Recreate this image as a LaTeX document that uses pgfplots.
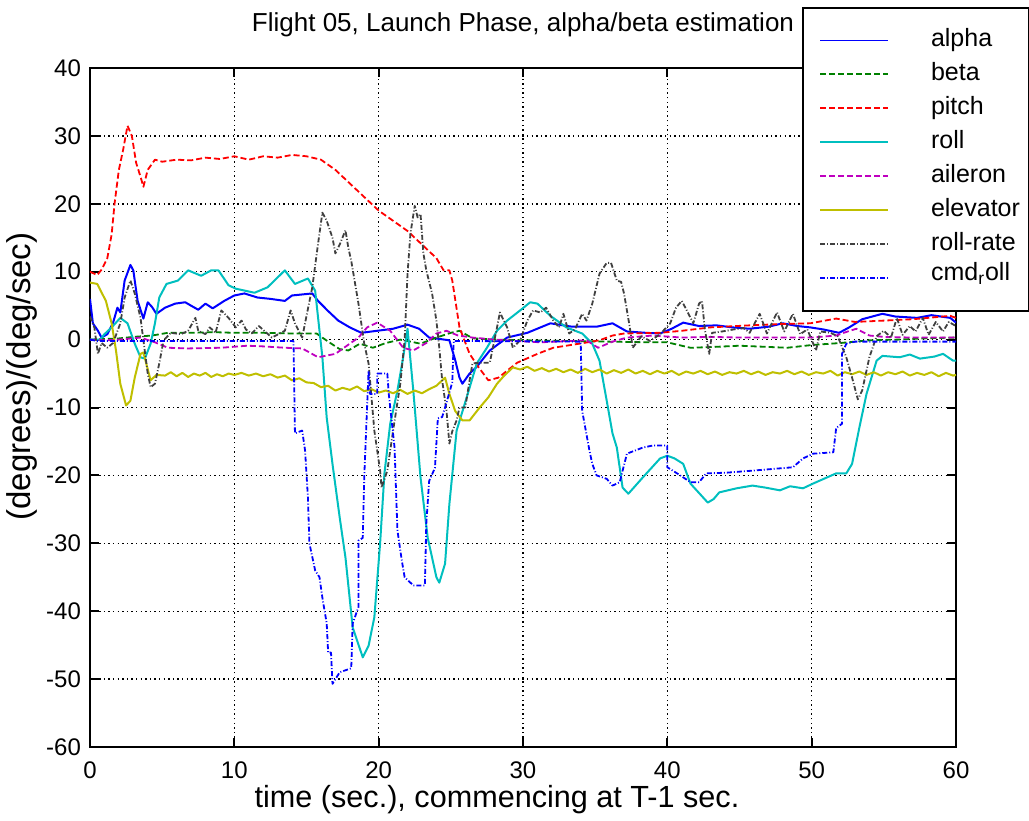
\documentclass[border=0pt]{standalone}
\usepackage{fontspec}
\setmainfont{Liberation Sans}
\usepackage{pgfplots}
\pgfplotsset{compat=1.18}
\definecolor{mblue}{RGB}{0,0,255}
\definecolor{mgreen}{RGB}{0,128,0}
\definecolor{mred}{RGB}{255,0,0}
\definecolor{mcyan}{RGB}{0,191,191}
\definecolor{mmag}{RGB}{191,0,191}
\definecolor{molive}{RGB}{191,191,0}
\definecolor{mgray}{RGB}{64,64,64}
\begin{document}
\begin{tikzpicture}[x=1pt,y=1pt]
\path[use as bounding box] (-45,-36.5) rectangle (469.5,373.5);
\begin{axis}[
  at={(0pt,0pt)}, anchor=south west,
  scale only axis, width=433pt, height=339.5pt,
  xmin=0, xmax=60, ymin=-60, ymax=40,
  xtick={0,10,...,60}, ytick={-60,-50,...,40},
  grid=major,
  major grid style={black, line width=0.7pt, dash pattern=on 0.7pt off 1.6pt},
  tick align=inside, major tick length=4.5pt,
  xtick pos=both, ytick pos=both,
  axis line style={line width=1pt},
  every tick/.style={black, line width=1pt},
  /pgf/number format/assume math mode=true,
  tick label style={font=\fontsize{12}{14}\selectfont},
  xticklabel style={yshift=-4pt},
  yticklabel style={xshift=-1pt},
  xlabel={time (sec.), commencing at T-1 sec.},
  xlabel style={at={(axis description cs:0.5,0)}, anchor=center, yshift=-26.5pt, xshift=-13pt, font=\fontsize{15.3}{17}\selectfont},
  ylabel={(degrees)/(deg/sec)},
  ylabel style={at={(axis description cs:0,0.5)}, anchor=center, yshift=34pt, xshift=15.5pt, font=\fontsize{16.5}{18}\selectfont},
  title={Flight 05, Launch Phase, alpha/beta estimation},
  title style={at={(axis description cs:0.5,1)}, anchor=center, yshift=15.5pt, font=\fontsize{13}{15}\selectfont},
  legend cell align=left,
  legend image code/.code={%
    \path[draw=none,fill=none] (-8.65pt,-8.5pt) rectangle (55.35pt,8.5pt);
    \draw[#1, line width=0.7pt] (0pt,0pt) -- (34pt,0pt);},
  legend style={at={(0.8222,1.0903)}, anchor=north west, draw=black, line width=1pt,
    fill=white, inner xsep=0pt, inner ysep=7.75pt, column sep=0pt, row sep=0pt,
    nodes={inner sep=0pt, text width=49pt, text height=11.75pt, text depth=5.25pt,
      font=\fontsize{12.5}{14}\selectfont}},
  every axis plot/.append style={line join=round},
]
% alpha
\addplot[mblue, line width=1pt] coordinates {
(0,6) (0.2,2.4) (0.55,1.3) (0.8,0.3) (1.2,0.8) (1.6,2.5) (1.9,4.7) (2.1,4.0) (2.4,8.7) (2.8,11) (3.0,10.2) (3.3,5.7) (3.7,3.1) (4.0,5.5) (4.3,4.8) (4.6,3.8) (5.2,4.7) (5.9,5.3) (6.6,5.5) (7.0,5.0) (7.5,4.4) (8.0,5.3) (8.5,4.6) (9.3,5.7) (10.0,6.5) (10.7,6.8) (11.6,6.2) (12.5,6.0) (13.5,5.7) (14,6.5) (15.4,6.8) (15.8,5.7) (16.5,4.2) (17.2,2.8) (18,1.8) (18.8,1.0) (19.9,1.3) (21,1.6) (22,2.2) (22.8,1.6) (23.5,0.3) (24.9,-0.1) (25.3,-3) (25.6,-5.6) (25.8,-6.5) (26.3,-5.0) (26.8,-4.0) (27.7,-1.6) (28.9,0.3) (30.3,1.0) (31.9,2.4) (33.4,1.9) (35.1,1.9) (36.2,2.4) (37.2,1.2) (38.5,1.0) (39.5,0.9) (40.3,1.6) (41.1,2.5) (42.2,2.0) (43.4,2.1) (44.5,1.8) (45.7,1.6) (47,1.9) (48,2.4) (49,2.0) (49.9,1.8) (50.8,1.5) (51.9,1.0) (52.6,1.8) (53.5,3.0) (54.9,3.8) (55.8,3.4) (57.3,3.2) (58.3,3.6) (59.6,3.2) (60,2.5)
};
\addlegendentry{alpha}
% beta
\addplot[mgreen, line width=0.9pt, dash pattern=on 3pt off 1.5pt] coordinates {
(0,0) (1,0.1) (1.9,0.15) (3,0.4) (4.3,0.6) (5.4,1.0) (7,1.0) (8.5,1.1) (10,1.0) (12,1.0) (14,0.9) (15.4,0.9) (15.7,0.9) (16.5,-0.3) (17.3,-1.4) (17.9,-1.6) (18.7,-0.6) (19.6,-1.2) (20.5,-0.5) (21.5,0.0) (22.9,-0.6) (24,0.3) (25,1.0) (25.6,1.3) (26.5,0.2) (28,0) (30,-0.1) (33,-0.2) (36,-0.3) (38.8,-0.4) (40,-0.4) (41.6,-1.2) (43,-1.1) (45,-0.9) (48.3,-1.2) (50,-0.8) (52,-0.5) (54,-0.1) (56,0.0) (58,0.2) (60,0.3)
};
\addlegendentry{beta}
% pitch
\addplot[mred, line width=0.9pt, dash pattern=on 3pt off 1.5pt] coordinates {
(0,10) (0.5,9.5) (0.8,10.3) (1.2,12) (1.5,15.5) (1.7,20) (2.0,25) (2.3,28) (2.6,31.5) (2.9,30) (3.2,26) (3.5,24) (3.7,22.5) (4.0,25) (4.5,26.5) (5,26.2) (6,26.5) (7,26.4) (8,26.8) (9,26.6) (10,27) (11,26.5) (12,27) (13,26.8) (14,27.2) (15,27) (16,26.5) (17,25) (18,23) (19,21) (20,19) (21,17.5) (22,16) (23,14) (24,12) (24.5,10.2) (24.9,10.2) (25.1,8.7) (25.6,1.8) (26.3,-2.1) (26.9,-4) (27.6,-6) (28.3,-5.6) (29.6,-3.4) (31,-2.1) (32.1,-1.2) (33.9,-0.6) (35.3,-0.1) (36.2,0.6) (37,0.9) (39.5,1.0) (41,1.3) (43,1.8) (45.7,2.1) (48,2.3) (49.9,2.4) (51.7,3.1) (53,2.6) (55,2.8) (57,3.0) (59.6,3.5) (60,3.2)
};
\addlegendentry{pitch}
% roll
\addplot[mcyan, line width=1pt] coordinates {
(0,0) (0.7,0) (1.0,0.8) (1.5,1.8) (2.1,3.2) (2.6,2.4) (3.1,-0.6) (3.5,-2.6) (3.8,-2.8) (4.2,-0.6) (4.5,2.4) (4.8,6.2) (5.3,8.2) (6.1,8.7) (6.8,10.2) (7.7,9.4) (8.4,10.2) (8.9,10.2) (9.6,8) (10.1,7.5) (11.4,6.9) (12.3,7.7) (13.5,10.2) (14.2,8.2) (15.1,9) (15.6,7.2) (15.9,1.3) (16.1,-2.6) (16.4,-11.5) (16.8,-18.3) (17.3,-26.2) (17.7,-32.1) (18.2,-42.4) (18.9,-46.8) (19.3,-45.1) (19.7,-40.9) (20.1,-30) (20.4,-19.7) (20.8,-12.4) (21.3,-7.5) (21.7,-2.6) (22,1.6) (22.4,-7.5) (22.9,-20.3) (23.4,-29.2) (24,-35) (24.2,-35.8) (24.6,-33) (24.9,-24.2) (25.4,-13.4) (26.1,-8.5) (26.8,-3.5) (27.5,-1.2) (28.2,1.3) (28.9,2.8) (29.8,4.3) (30.5,5.5) (31,5.3) (31.9,3.5) (33,1.8) (34.1,0.9) (34.8,-0.6) (35.3,-3.1) (35.8,-9) (36.2,-13.8) (36.5,-15.9) (36.9,-21.8) (37.3,-22.7) (38.3,-20.3) (39.5,-17.5) (40,-17.1) (40.5,-17.5) (41.1,-18.3) (41.6,-21.2) (42.5,-23.3) (42.8,-24) (43.2,-23.5) (43.6,-22.5) (44.8,-21.9) (45.9,-21.5) (46.8,-21.8) (47.8,-22.2) (48.5,-21.6) (49.4,-21.9) (50.1,-21.2) (51.7,-19.7) (52.4,-19.7) (52.8,-18.3) (53.3,-13) (53.8,-8) (54.5,-3.1) (54.9,-2.4) (56.1,-2.6) (56.8,-2.2) (57.5,-2.8) (58.5,-2.5) (59.1,-2.1) (59.8,-3.1) (60,-3.1)
};
\addlegendentry{roll}
% aileron
\addplot[mmag, line width=0.9pt, dash pattern=on 3pt off 1.5pt] coordinates {
(0,0) (1,-0.1) (2,0) (3,0.2) (3.5,0.3) (4.5,-0.4) (5.4,-1.2) (6.8,-1.3) (9.1,-1.2) (10.9,-0.9) (12,-1.0) (13.5,-1.2) (14.7,-1.3) (15.3,-2) (15.8,-2.6) (17,-2.1) (18.6,0.3) (19.2,1.8) (19.9,2.5) (20.8,1.3) (21.7,-1.2) (22.4,-1.6) (23.3,-0.5) (24,0.9) (24.7,1.3) (25.5,0.6) (26.5,0.3) (28,0) (31.2,-0.4) (34.4,-0.1) (35.2,-1.2) (36.2,-0.3) (37.2,0.3) (39,0.6) (41,0.3) (43,0.4) (45,0.3) (48,0.3) (50,0.3) (51.7,0.6) (52.5,1.2) (53.1,1.6) (54,0.6) (55,0.4) (57,0.3) (60,0.3)
};
\addlegendentry{aileron}
% elevator
\addplot[molive, line width=1pt] coordinates {
(0,8.4) (0.5,8.2) (1.1,5.7) (1.5,2.4) (1.8,-1.6) (2.1,-6.5) (2.5,-9.7) (2.8,-9) (3.1,-5.6) (3.5,-2.1) (3.7,-1.9) (4.2,-6) (4.6,-5.2) (5.2,-5.3) (5.6,-4.8) (6,-5.4) (6.4,-4.9) (6.8,-5.5) (7.2,-5.0) (7.6,-5.3) (8.0,-4.9) (8.4,-5.5) (8.8,-5.1) (9.2,-5.4) (9.6,-5.0) (10,-5.2) (10.5,-4.9) (11,-5.3) (11.5,-5.0) (12,-5.4) (12.5,-5.1) (13,-5.6) (13.5,-5.3) (14,-6) (14.5,-5.7) (15,-6.3) (15.5,-6.4) (16,-7) (16.5,-6.8) (17,-7.5) (17.5,-7.1) (18,-7.4) (18.5,-6.9) (19,-7.6) (19.5,-7.3) (20,-7.8) (20.5,-7.5) (21,-7.9) (21.5,-7.4) (22,-8) (22.5,-7.5) (23,-7.9) (23.5,-7.3) (24,-6.8) (24.6,-5.6) (24.9,-8) (25.3,-10.5) (25.8,-11.9) (26.3,-11.9) (27,-10) (27.6,-8.5) (28.2,-6.5) (28.7,-5.3) (29.3,-4.1) (29.8,-4.4) (30.3,-4.0) (30.8,-4.6) (31.3,-4.2) (31.8,-4.7) (32.3,-4.3) (32.8,-4.8) (33.3,-4.4) (33.8,-4.9) (34.3,-4.3) (34.8,-4.8) (35.3,-4.4) (35.8,-5.0) (36.3,-4.5) (36.8,-4.9) (37.3,-4.4) (37.8,-5.0) (38.3,-4.6) (38.8,-5.1) (39.3,-4.6) (39.8,-5.0) (40.3,-4.6) (40.8,-5.2) (41.3,-4.7) (41.8,-5.0) (42.3,-4.6) (42.8,-5.1) (43.3,-4.7) (43.8,-5.2) (44.3,-4.8) (44.8,-5.0) (45.3,-4.6) (45.8,-5.1) (46.3,-4.7) (46.8,-5.2) (47.3,-4.8) (47.8,-5.0) (48.3,-4.6) (48.8,-5.1) (49.3,-4.7) (49.8,-5.2) (50.3,-4.8) (50.8,-5.0) (51.3,-4.6) (51.8,-5.3) (52.3,-4.8) (52.8,-5.1) (53.3,-4.7) (53.8,-5.2) (54.3,-4.8) (54.8,-5.3) (55.3,-4.8) (55.8,-5.1) (56.3,-4.7) (56.8,-5.3) (57.3,-4.9) (57.8,-5.2) (58.3,-4.8) (58.8,-5.4) (59.3,-4.9) (59.8,-5.3) (60,-5.2)
};
\addlegendentry{elevator}
% roll-rate
\addplot[mgray, line width=0.9pt, dash pattern=on 2.5pt off 1pt on 0.5pt off 1pt] coordinates {
(0,3.4) (0.3,1.8) (0.55,-2.1) (0.8,-0.5) (1.2,-1.2) (1.6,-0.5) (2.1,2.4) (2.4,6.2) (2.8,8.7) (3.1,6.8) (3.5,3.2) (3.7,-0.1) (4.0,-5) (4.2,-7) (4.5,-6.5) (4.8,-3.5) (5.1,-0.1) (5.6,1.0) (6.3,0.8) (6.8,1.3) (7.3,3.2) (7.5,1.3) (8.0,0.8) (8.3,1.8) (8.7,1.0) (9.1,4.3) (9.6,3.2) (10.1,1.8) (10.5,2.8) (10.8,1.5) (11.2,0.9) (11.7,2.0) (12.6,0.3) (13.5,1.3) (13.9,4.3) (14.2,2.4) (14.7,0.3) (15.4,7.7) (15.8,14.1) (16.1,18.7) (16.4,17.5) (16.8,15) (17,12.7) (17.3,14) (17.7,16.1) (17.9,13.5) (18.1,11.6) (18.6,5.3) (19,-0.6) (19.3,-3.5) (19.7,-13.4) (20.1,-19.3) (20.2,-21.8) (20.6,-19.3) (21,-13.4) (21.5,-6.5) (21.8,0) (22.0,9.7) (22.2,15.6) (22.5,19.7) (22.7,18) (22.9,18.5) (23.1,12.7) (23.3,10.2) (23.7,6.8) (24,2.8) (24.2,-1.2) (24.4,-6) (24.7,-10.5) (24.9,-15.3) (25.1,-13.5) (25.4,-11.9) (25.6,-10) (26,-10) (26.3,-6) (26.5,-3.5) (27,-3.4) (27.7,-3.4) (28.2,1.8) (28.4,4) (28.9,1.8) (29.3,-1.2) (29.8,-0.1) (30.3,2.8) (30.7,4.3) (31.2,4.0) (31.6,4.7) (32.1,2.8) (32.5,1.8) (32.8,3.8) (33.2,0.9) (33.6,1.5) (34.1,3.8) (34.4,2.8) (34.8,5.3) (35.3,9.7) (35.8,11.3) (36.1,11.3) (36.5,8.7) (36.8,8.5) (37,6.8) (37.4,1.8) (37.6,-1.2) (38.2,0.5) (38.8,-0.2) (39.5,0.8) (40.2,2.4) (40.6,4.7) (41,5.7) (41.3,4.5) (41.8,2.4) (42.2,5.3) (42.4,5.7) (42.6,1.5) (42.9,-2.1) (43.1,1.0) (43.8,1.2) (44.6,1.5) (45.3,1.7) (45.7,1.0) (46.4,3.8) (46.9,0.9) (47.6,4) (48.1,1.2) (48.7,3.8) (49.2,0.8) (49.7,1.5) (50.3,-1.6) (50.6,1.2) (51.3,1.0) (51.8,0.5) (52.4,-2.6) (52.8,-5.6) (53.2,-8.8) (53.5,-7.5) (54,-2.6) (54.5,0.5) (55,1.3) (55.5,0.3) (55.9,3.2) (56.3,0.7) (56.8,2.0) (57.2,1.2) (57.7,3.2) (58.1,0.7) (58.6,2.6) (59.1,1.2) (59.5,2.6) (60,2.0)
};
\addlegendentry{roll-rate}
% cmd_roll
\addplot[mblue, line width=0.9pt, dash pattern=on 2.5pt off 1pt on 0.5pt off 1pt] coordinates {
(0,0) (0.5,-0.2) (14.1,-0.2) (14.2,-13.8) (14.7,-13.4) (14.9,-16.3) (15.1,-23.3) (15.2,-30) (15.6,-34) (15.9,-35) (16.1,-38) (16.4,-41.8) (16.5,-46.1) (16.7,-46.1) (16.8,-50.7) (17.3,-49) (18.1,-48.4) (18.2,-41.8) (18.6,-39.4) (18.6,-29.6) (18.9,-29.2) (19,-20.3) (19.3,-4.6) (19.4,-8) (19.9,-8) (19.9,-5) (20.6,-5) (20.7,-8) (21.1,-15.9) (21.3,-28.1) (21.6,-32.5) (21.8,-35) (22.4,-36.2) (23.2,-36.2) (23.3,-27.1) (23.5,-20.8) (23.9,-18.9) (24.1,-11.6) (24.4,-11.4) (24.6,-10) (25.1,-6.3) (25.2,-0.2) (34.0,-0.3) (34.1,-10.5) (34.6,-16.3) (34.8,-18.3) (35.1,-20) (35.8,-20.5) (36.2,-21.5) (36.7,-21) (37.2,-16.8) (38.3,-15.9) (39,-15.6) (40,-15.6) (40,-18.8) (40.9,-20) (41.6,-21) (42.2,-21) (42.7,-19.7) (44.1,-19.6) (45.9,-19.3) (48.7,-18.8) (49.4,-17.5) (50.1,-16.8) (51.5,-16.6) (51.7,-13) (52.1,-12.4) (52.1,-2.1) (52.4,-0.6) (53,-0.3) (60,-0.3)
};
\addlegendentry{\raisebox{2pt}{cmd\textsubscript{r}oll}}
\end{axis}
\end{tikzpicture}
\end{document}
